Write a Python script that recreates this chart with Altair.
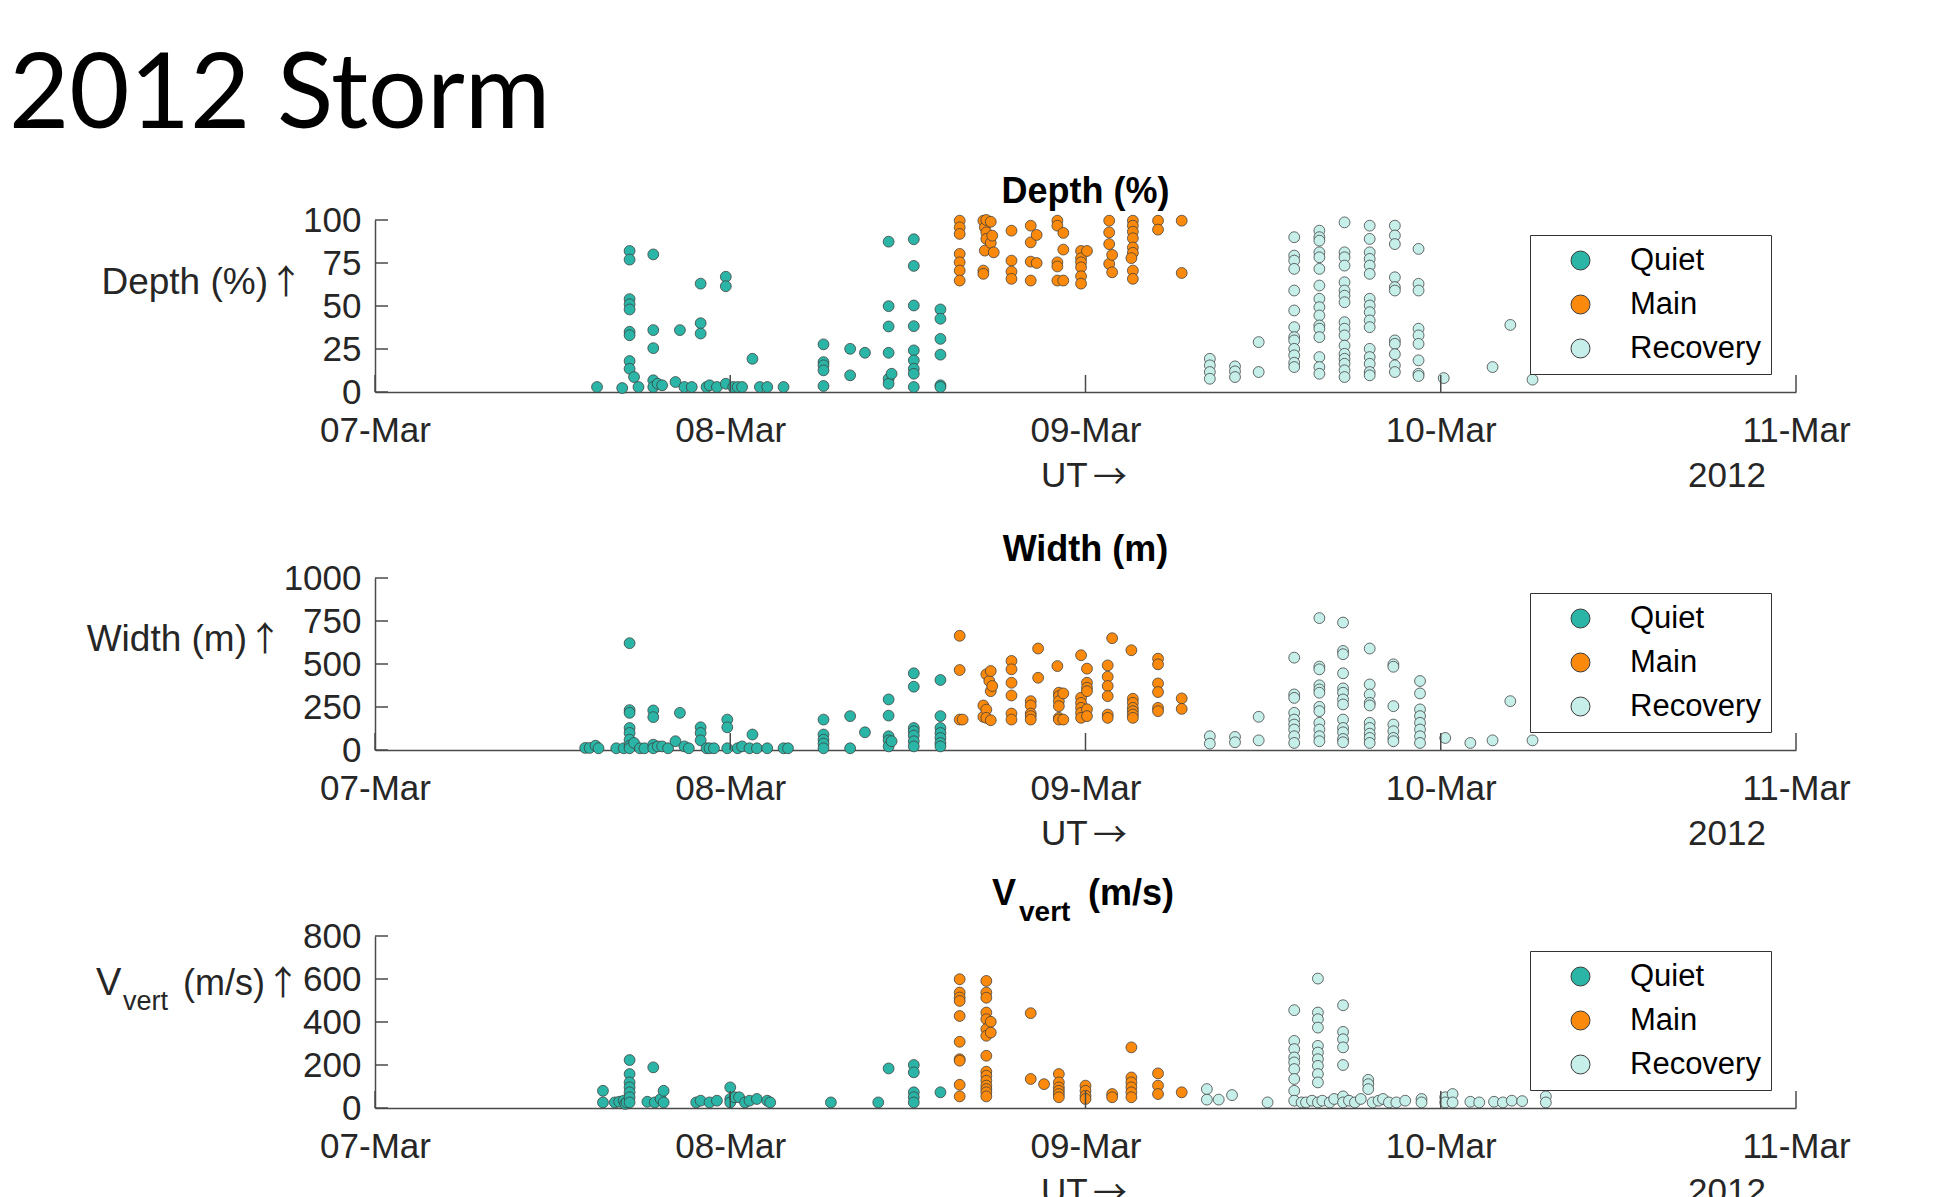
import altair as alt
import pandas as pd

# ---------------- data (hours after 07-Mar-2012 00:00 UT, [values]) ----------------
PHASES = ["Quiet", "Main", "Recovery"]
PHASE_COLORS = ["#2bb5a6", "#fb8a0c", "#c6efea"]

depth_quiet = [
    (15.0, [2.9]), (16.7, [2.3]),
    (17.2, [82, 77, 54, 51, 48, 35, 33, 18, 13.5]), (17.5, [8.7]), (17.8, [2.9]),
    (18.8, [80, 36, 25.5, 6.8, 2.9]), (19.1, [4.8]), (19.4, [3.9]), (20.3, [5.8]),
    (20.6, [36]), (20.9, [2.9]), (21.4, [2.9]), (22.0, [63, 40, 34]), (22.4, [2.9]),
    (22.6, [3.9]), (23.1, [2.9]), (23.7, [67, 61.5, 4.8]), (24.2, [2.9]), (24.5, [2.9]),
    (24.8, [2.9]), (25.5, [19.3]), (26.0, [2.9]), (26.5, [2.9]), (27.6, [2.9]),
    (30.3, [27.7, 17.4, 15.5, 12.6, 3.5]), (32.1, [25.1, 9.7]), (33.1, [22.8]),
    (34.7, [87.4, 49.9, 38.1, 22.8, 7.7, 4.8]), (34.9, [10.6]),
    (36.4, [88.8, 73.3, 50.3, 38.3, 24.2, 18.4, 13.5, 10.6, 2.9]),
    (38.2, [48, 42.6, 30.9, 21.7, 3.9, 2.9]),
]
depth_main = [
    (39.5, [99.6, 95.7, 91.9, 80.3, 75.4, 70.6, 64.8]),
    (41.1, [99.6, 70.6, 68.7]), (41.2, [95.7, 82.2]), (41.3, [100, 92.8, 89]),
    (41.6, [99, 86.7]), (41.7, [90.9]), (41.8, [81.2]),
    (43.0, [93.8, 76.4, 70, 65.8]), (44.3, [96.7, 87, 75.8, 64.8]), (44.7, [91.3, 75]),
    (46.1, [99.6, 96.7, 75.4, 73, 64.8]), (46.5, [92.5, 82.8, 64.8]),
    (47.7, [82, 77.8, 75.4, 72.5, 67.3, 63]), (48.1, [82]),
    (49.6, [99.6, 92.8, 86, 74.5]), (49.8, [79.7, 69.6]),
    (51.2, [99.6, 96.7, 93.2, 89.4, 84, 80.9, 70.6, 65.8]), (51.1, [77.8]),
    (52.9, [99.6, 94.4]), (54.5, [99.6, 69.2]),
]
depth_recovery = [
    (56.4, [19.3, 15.5, 11.6, 7.7]), (58.1, [14.9, 12, 8.7]), (59.7, [29, 11.6]),
    (62.1, [90, 79.3, 76.4, 71.6, 59, 47.4, 37.7, 31.9, 30, 25.1, 21.3, 17, 14.5]),
    (63.8, [93.8, 90, 88, 81.2, 78.3, 71.6, 61.9, 54.2, 49.3, 44.5, 38.7, 36.8, 31.9, 20.3, 14.5, 10.6]),
    (65.5, [98.6, 81.2, 78.3, 73.5, 63.8, 59, 56, 52.2, 40.6, 36.8, 32.9, 27, 22.2, 19.3, 16.4, 12.6, 8.7]),
    (67.2, [96.7, 89, 81.2, 77.4, 73.5, 68.7, 54.2, 50.3, 46.4, 41.6, 37.7, 25.1, 20.3, 16.4, 11.6, 9.7]),
    (68.9, [96.7, 91, 86, 66.7, 61, 59, 30, 28, 22, 15.5, 11.6]),
    (70.5, [83.2, 62.9, 59, 36.8, 32.9, 28, 18.4, 10.6, 9.3]),
    (72.2, [8.1]), (75.5, [14.5]), (76.7, [39]), (78.2, [7.2]),
]

width_quiet = [
    (14.2, [12]), (14.5, [12]), (14.9, [25]), (15.1, [10]), (16.3, [10]), (16.8, [10]),
    (17.2, [621, 232, 216, 128, 99, 60, 25, 10]), (17.5, [41]), (17.9, [10]), (18.2, [10]),
    (18.8, [230, 191, 31, 10]), (19.1, [21]), (19.4, [21]), (19.8, [10]), (20.3, [51]),
    (20.6, [216]), (20.9, [21]), (21.2, [10]), (22.0, [132, 99, 56]), (22.4, [10]),
    (22.6, [10]), (22.9, [10]), (23.8, [177, 132, 10]), (24.5, [10]), (24.8, [21]),
    (25.3, [10]), (25.5, [90]), (25.8, [10]), (26.5, [10]), (27.6, [10]), (27.9, [10]),
    (30.3, [177, 90, 60, 37, 10]), (32.1, [197, 10]), (33.1, [103]),
    (34.7, [294, 200, 80, 56, 21]), (34.9, [51]),
    (36.4, [446, 368, 128, 109, 84, 51, 21]), (38.2, [407, 197, 128, 99, 70, 41, 21]),
]
width_main = [
    (39.5, [664, 465, 177]), (39.7, [177]),
    (41.1, [259, 193]), (41.3, [440, 235, 187]), (41.5, [401]), (41.6, [459, 342, 173]), (41.7, [372]),
    (43.0, [518, 469, 391, 317, 212, 177]), (44.3, [284, 259, 212, 197, 177]), (44.8, [590, 420]),
    (46.1, [488]), (46.2, [333, 313, 284, 255, 187, 177]), (46.5, [329, 177]),
    (47.7, [551, 304, 274, 245, 216, 187]), (48.1, [473, 391, 362, 342, 237, 197]),
    (49.5, [492, 426, 372, 313, 206, 187]), (49.8, [650]),
    (51.1, [580]), (51.2, [298, 274, 245, 226, 206, 187]),
    (52.9, [531, 498, 387, 337, 245, 226]), (54.5, [300, 239]),
]
width_recovery = [
    (56.4, [80, 37]), (58.1, [76, 45]), (59.7, [193, 56]),
    (62.1, [537, 323, 303, 216, 177, 148, 119, 80, 41]),
    (63.8, [767, 485, 469, 376, 352, 333, 251, 226, 158, 119, 80, 51]),
    (65.4, [741, 576, 557, 446, 358, 333, 294, 265, 177, 128, 103, 64, 45]),
    (67.2, [590, 381, 323, 274, 259, 158, 128, 95, 70, 41]),
    (68.8, [498, 484, 255, 148, 109, 70, 51]),
    (70.6, [401, 329, 236, 197, 158, 119, 80, 41]),
    (72.3, [70]), (74.0, [41]), (75.5, [56]), (76.7, [284]), (78.2, [56]),
]

vvert_quiet = [
    (15.4, [80, 26]), (16.2, [26]), (16.5, [29]), (16.8, [34]), (16.9, [19]), (17.0, [26]),
    (17.2, [223, 158, 119, 96, 73, 50, 26]), (18.4, [29]), (18.8, [189]), (18.9, [26]),
    (19.3, [42]), (19.5, [80, 26]), (21.7, [26]), (22.0, [34]), (22.6, [26]), (23.1, [34]),
    (24.0, [96, 42, 26]), (24.3, [50]), (24.6, [50]), (25.0, [26]), (25.3, [34]),
    (25.8, [42]), (26.5, [34]), (26.7, [26]), (30.8, [26]), (34.0, [26]), (34.7, [184]),
    (36.4, [200, 166, 73, 50, 26]), (38.2, [73]),
]
vvert_main = [
    (39.5, [599, 537, 514, 498, 428, 308, 227, 220, 108, 54]),
    (41.3, [591, 537, 513, 444, 413, 367, 336, 243, 169, 150, 127, 104, 88, 73, 54]),
    (41.6, [401, 351]), (44.3, [441, 135]), (45.2, [111]),
    (46.2, [158, 119, 96, 80, 65, 50]), (48.0, [104, 80, 57, 42]), (49.8, [65, 50]),
    (51.1, [282, 142, 119, 96, 73, 50]), (52.9, [161, 104, 65]), (54.5, [73]),
]
vvert_recovery = [
    (56.2, [88, 39]), (57.0, [39]), (57.9, [60]), (60.3, [26]),
    (62.1, [455, 312, 274, 235, 212, 181, 135, 80, 34]), (62.6, [26]), (62.9, [26]),
    (63.3, [34]), (63.7, [602, 444, 413, 374, 289, 258, 227, 196, 158, 119, 26]),
    (64.0, [34]), (64.5, [26]), (64.8, [42]), (65.4, [478, 354, 320, 282, 200, 54, 26]),
    (65.8, [34]), (66.2, [26]), (66.6, [42]), (67.1, [131, 111, 88]), (67.4, [26]),
    (67.8, [34]), (68.1, [42]), (68.5, [26]), (69.0, [26]), (69.6, [34]),
    (70.7, [42, 26]), (72.3, [50, 26]), (72.8, [65, 26]), (74.0, [29]), (74.6, [26]),
    (75.6, [29]), (76.2, [26]), (76.8, [34]), (77.5, [32]), (79.1, [54, 26]),
]

depth_ticks = [0, 25, 50, 75, 100]
width_ticks = [0, 250, 500, 750, 1000]
vvert_ticks = [0, 200, 400, 600, 800]
day_ticks = ["2012-03-07T00:00:00Z", "2012-03-08T00:00:00Z", "2012-03-09T00:00:00Z",
             "2012-03-10T00:00:00Z", "2012-03-11T00:00:00Z"]

# ---------------- styling ----------------
BASE = pd.Timestamp("2012-03-07 00:00:00")
W, H = 1421, 172
FONT = "Liberation Sans"
ARROW_FONT = "Noto Sans CJK JP"
TXT = "#262626"
AXC = "#4a4a4a"
EDGE = "#3c3c3c"


def build(groups):
    rows = []
    for phase, cols in zip(PHASES, groups):
        for h, vals in cols:
            t = (BASE + pd.Timedelta(hours=h)).strftime("%Y-%m-%dT%H:%M:%SZ")
            for v in vals:
                rows.append({"time": t, "value": v, "phase": phase})
    return pd.DataFrame(rows)


def one(text):
    return pd.DataFrame({"t": [text]})


def text_layer(text, x, y, size=34, weight="normal", align="left", baseline="middle",
               color=TXT, font=FONT):
    return alt.Chart(one(text)).mark_text(
        align=align, baseline=baseline, fontSize=size, fontWeight=weight,
        font=font, color=color
    ).encode(x=alt.value(x), y=alt.value(y), text="t:N")


def panel(df, ymax, yticks, title_layers, extra=None):
    xdom = [alt.DateTime(year=2012, month=3, date=7, utc=True),
            alt.DateTime(year=2012, month=3, date=11, utc=True)]
    xvals = [alt.DateTime(year=2012, month=3, date=d, utc=True) for d in range(7, 12)]
    xscale = alt.Scale(type="utc", domain=xdom, nice=False)
    yscale = alt.Scale(domain=[0, ymax], nice=False, zero=True)

    yaxis = alt.Axis(
        values=yticks, grid=False, ticks=False, tickSize=0, labelPadding=14,
        labelExpr="format(datum.value, 'd')", title=None,
        labelFont=FONT, labelFontSize=35, labelColor=TXT, labelFlush=False,
        labelOverlap=False, domainColor=AXC, domainWidth=1.5,
    )
    xaxis = alt.Axis(
        values=xvals, labelExpr="utcFormat(datum.value, '%d-%b')", grid=False, ticks=False,
        tickSize=0, labelPadding=21, labelFont=FONT, labelFontSize=35, title=None,
        labelColor=TXT, labelFlush=False, labelOverlap=False, domainColor=AXC,
        domainWidth=1.5,
    )

    pts = alt.Chart(df).mark_circle(
        size=118, opacity=1, stroke=EDGE, strokeWidth=0.9, strokeOpacity=0.85
    ).encode(
        x=alt.X("time:T", scale=xscale, axis=xaxis),
        y=alt.Y("value:Q", scale=yscale, axis=yaxis),
        color=alt.Color("phase:N", scale=alt.Scale(domain=PHASES, range=PHASE_COLORS),
                        legend=alt.Legend(
                            title=None, orient="none", legendX=1155, legendY=15,
                            padding=10, symbolOffset=25, labelOffset=34, rowPadding=12,
                            labelFont=FONT, labelFontSize=31, labelColor="#000000",
                            symbolType="circle", symbolSize=360, symbolOpacity=1,
                            symbolStrokeColor=EDGE, symbolStrokeWidth=1,
                            strokeColor="#333333", fillColor="white",
                        )),
    )

    ytick_rules = alt.Chart(pd.DataFrame({"value": yticks})).mark_rule(
        color=AXC, strokeWidth=1.5
    ).encode(y=alt.Y("value:Q", scale=yscale, axis=yaxis), x=alt.value(0), x2=alt.value(13))

    xtick_rules = alt.Chart(pd.DataFrame({"time": day_ticks})).mark_rule(
        color=AXC, strokeWidth=1.5
    ).encode(x=alt.X("time:T", scale=xscale, axis=xaxis), y=alt.value(H), y2=alt.value(H - 17))

    ut = [text_layer("UT", 666, 256, size=35),
          text_layer("→", 735, 259, size=34, align="center", font=ARROW_FONT)]
    year = text_layer("2012", 1352, 256, size=35, align="center")

    layers = [pts, ytick_rules, xtick_rules, year] + ut + title_layers + (extra or [])
    return alt.layer(*layers).properties(width=W, height=H)


def ylabel(text, right_x, arrow_x, y, size=37):
    return [text_layer(text, right_x, y, size=size, align="right"),
            text_layer("↑", arrow_x, y + 1, size=34, align="center", font=ARROW_FONT)]


df_depth = build([depth_quiet, depth_main, depth_recovery])
df_width = build([width_quiet, width_main, width_recovery])
df_vvert = build([vvert_quiet, vvert_main, vvert_recovery])

anchor = alt.Chart(one("a")).mark_rule(color="white", strokeWidth=1).encode(
    x=alt.value(-366), x2=alt.value(-362), y=alt.value(-211), y2=alt.value(-211)
)
big_title = text_layer("2012 Storm", -366, -92, size=104, baseline="alphabetic",
                       color="#000000", font="Lato")

p1 = panel(df_depth, 100, depth_ticks,
           [text_layer("Depth (%)", W / 2, -28, size=36, weight="bold", align="center",
                       color="#000000")] + ylabel("Depth (%)", -107, -89, 63),
           extra=[anchor, big_title])

p2 = panel(df_width, 1000, width_ticks,
           [text_layer("Width (m)", W / 2, -28, size=36, weight="bold", align="center",
                       color="#000000")] + ylabel("Width (m)", -128, -110, 62))

p3 = panel(df_vvert, 800, vvert_ticks,
           [text_layer("V", 617, -42, size=36, weight="bold", color="#000000"),
            text_layer("vert", 644, -23, size=28, weight="bold", color="#000000"),
            text_layer("(m/s)", 713, -42, size=36, weight="bold", color="#000000"),
            text_layer("V", -279, 48, size=38),
            text_layer("vert", -252, 66, size=27)] + ylabel("(m/s)", -110, -92, 48, size=36))

chart = alt.vconcat(p1, p2, p3, spacing=186, bounds="flush").resolve_scale(
    color="independent", x="independent", y="independent"
).resolve_legend(color="independent").properties(
    padding=0
).configure(background="white").configure_view(strokeWidth=0)

chart.save("out.html", embed_options={"renderer": "svg", "actions": False})
